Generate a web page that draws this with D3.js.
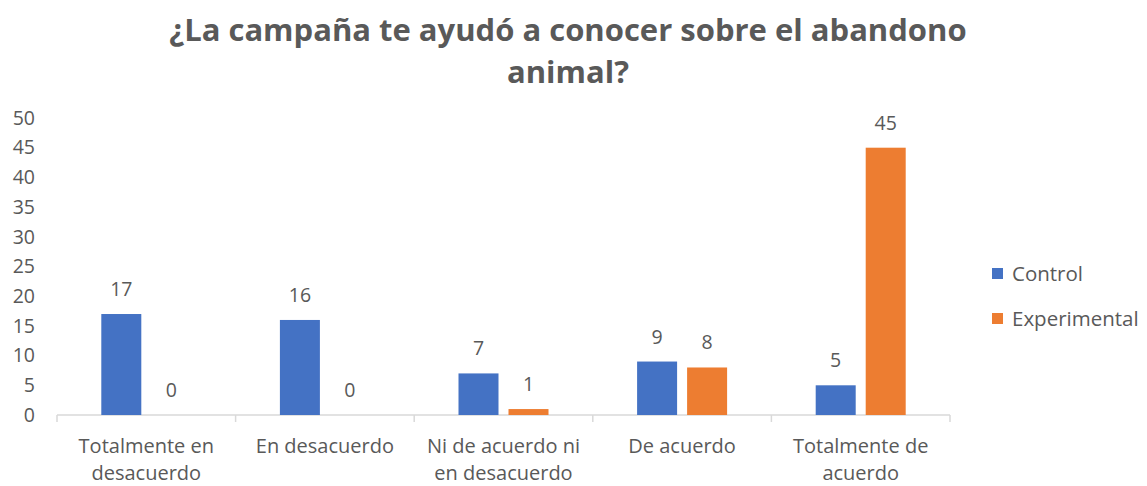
<!DOCTYPE html>
<html><head><meta charset="utf-8">
<script src="https://cdn.jsdelivr.net/npm/d3@7"></script>
<style>body{margin:0;background:#fff}svg{display:block}text{font-family:"Open Sans",sans-serif;fill:#595959}</style>
</head><body><svg id="c" width="1147" height="486"></svg>
<script>
const categories = [["Totalmente en","desacuerdo"],["En desacuerdo"],["Ni de acuerdo ni","en desacuerdo"],["De acuerdo"],["Totalmente de","acuerdo"]];
const seriesNames = ["Control","Experimental"];
const control = [17,16,7,9,5];
const experimental = [0,0,1,8,45];
const yTicks = [0,5,10,15,20,25,30,35,40,45,50];
const colors = ["#4472C4","#ED7D31"];

const svg = d3.select("#c");
const L=57,R=950,T=118,B=415;
const x = d3.scaleBand().domain(d3.range(categories.length)).range([L,R]);
const inner = d3.scaleBand().domain([0,1]).range([0,90]).paddingInner(0.2);
const y = d3.scaleLinear().domain([0,50]).range([B,T]);
const FS = 19.5;

// title
svg.append("text").attr("x",568).attr("y",41).attr("text-anchor","middle").attr("font-size",31).attr("font-weight","bold").text("¿La campaña te ayudó a conocer sobre el abandono");
svg.append("text").attr("x",568).attr("y",83).attr("text-anchor","middle").attr("font-size",31).attr("font-weight","bold").text("animal?");

// y axis labels
const ya = svg.append("g").attr("transform",`translate(${L-22},0)`).call(d3.axisLeft(y).tickValues(yTicks).tickSize(0).tickPadding(0));
ya.select(".domain").remove();
ya.selectAll("text").attr("font-size",FS).attr("font-family","Open Sans").attr("fill","#595959");

// x axis
const xa = svg.append("g").attr("transform",`translate(0,${B})`);
xa.append("line").attr("x1",L).attr("x2",R).attr("stroke","#d9d9d9").attr("stroke-width",1.5);
const bounds = d3.range(categories.length+1).map(i=> i<categories.length ? x(i) : R);
xa.selectAll("line.t").data(bounds).join("line").attr("class","t").attr("x1",d=>d).attr("x2",d=>d).attr("y1",0).attr("y2",7).attr("stroke","#d9d9d9").attr("stroke-width",1.5);
categories.forEach((lines,i)=>{
  lines.forEach((s,j)=>{
    svg.append("text").attr("x",x(i)+x.bandwidth()/2).attr("y",453+j*27).attr("text-anchor","middle").attr("font-size",FS+0.5).text(s);
  });
});

// bars
const data = [control,experimental];
data.forEach((vals,si)=>{
  const g = svg.append("g");
  g.selectAll("rect").data(vals).join("rect")
    .attr("x",(d,i)=>x(i)+x.bandwidth()/2-45+inner(si))
    .attr("width",inner.bandwidth())
    .attr("y",d=>y(d)).attr("height",d=>B-y(d)).attr("fill",colors[si]);
  g.selectAll("text").data(vals).join("text")
    .attr("x",(d,i)=>x(i)+x.bandwidth()/2-45+inner(si)+inner.bandwidth()/2)
    .attr("y",d=>y(d)-18).attr("text-anchor","middle").attr("font-size",FS).text(d=>d);
});

// legend
seriesNames.forEach((n,i)=>{
  svg.append("rect").attr("x",992).attr("y",268+i*45).attr("width",11).attr("height",11).attr("fill",colors[i]);
  svg.append("text").attr("x",1012).attr("y",281+i*45).attr("font-size",FS+1).text(n);
});
</script></body></html>
